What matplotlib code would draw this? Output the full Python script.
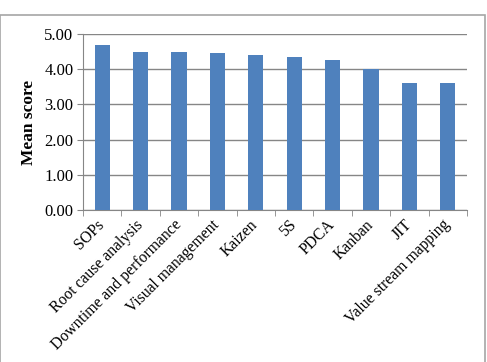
import numpy as np
import matplotlib.pyplot as plt
from matplotlib.patches import Rectangle

categories = ['SOPs', 'Root cause analysis', 'Downtime and performance',
              'Visual management', 'Kaizen', '5S', 'PDCA', 'Kanban', 'JIT',
              'Value stream mapping']
mean_scores = [4.70, 4.50, 4.50, 4.45, 4.40, 4.35, 4.25, 4.00, 3.62, 3.60]
y_ticks = [0, 1, 2, 3, 4, 5]

plt.rcParams['font.family'] = ['Liberation Serif', 'DejaVu Serif']

fig = plt.figure(figsize=(4.87, 3.62), dpi=100)
# outer chart frame
fig.patches.append(Rectangle((0.001, -0.01), 0.994, 0.968, transform=fig.transFigure,
                             fill=False, edgecolor='#a6a6a6', linewidth=1.2))

ax = fig.add_axes([0.1704, 0.4199, 0.7885, 0.4862])
x = np.arange(len(categories))
ax.bar(x, mean_scores, width=0.4, color='#4f81bd', zorder=3)

ax.set_ylim(0, 5)
ax.set_xlim(-0.5, len(categories) - 0.5)
ax.set_yticks(y_ticks)
ax.set_yticklabels(['%.2f' % v for v in y_ticks], fontsize=12)
ax.yaxis.grid(True, color='#868686', linewidth=1, zorder=0)
ax.set_ylabel('Mean score', fontsize=12.5, fontweight='bold', labelpad=5)

ax.set_xticks(x)
ax.set_xticklabels(categories, rotation=45, ha='right', va='center',
                   rotation_mode='anchor', fontsize=11.3)
ax.tick_params(axis='x', length=0, pad=9)
ax.set_xticks(np.arange(-0.5, len(categories)), minor=True)
ax.tick_params(axis='x', which='minor', length=4, color='#868686')
ax.tick_params(axis='y', length=4, color='#868686', pad=3)

for side in ['top', 'right']:
    ax.spines[side].set_visible(False)
for side in ['left', 'bottom']:
    ax.spines[side].set_color('#868686')

fig.savefig('out.png', dpi=100)
